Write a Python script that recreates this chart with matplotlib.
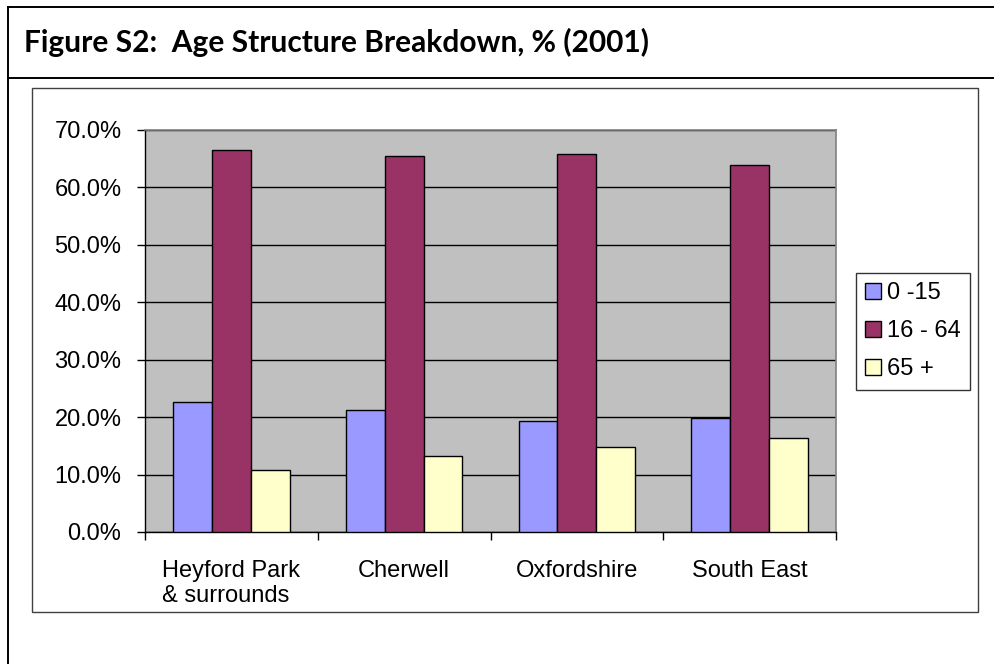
import matplotlib
matplotlib.use("Agg")
import matplotlib.pyplot as plt
from matplotlib.patches import Rectangle
from matplotlib.lines import Line2D
import numpy as np

categories = ["Heyford Park\n& surrounds", "Cherwell", "Oxfordshire", "South East"]
series_names = ["0 -15", "16 - 64", "65 +"]
age_0_15 = [22.6, 21.2, 19.3, 19.8]
age_16_64 = [66.6, 65.5, 65.9, 63.9]
age_65_plus = [10.8, 13.3, 14.8, 16.3]
y_ticks = [0, 10, 20, 30, 40, 50, 60, 70]
title = "Figure S2:  Age Structure Breakdown, % (2001)"

colors = ["#9999FF", "#993366", "#FFFFCC"]

W, H = 994, 664
fig = plt.figure(figsize=(W / 100, H / 100), dpi=100)
fig.patch.set_facecolor("white")

def fx(px):
    return px / W

def fy(py):
    return 1 - py / H

# outer document frame lines
fig.add_artist(Line2D([fx(8), fx(8)], [fy(7), fy(664)], color="black", lw=1.4,
                      transform=fig.transFigure))
fig.add_artist(Line2D([fx(8), 1.0], [fy(7), fy(7)], color="black", lw=1.4,
                      transform=fig.transFigure))
fig.add_artist(Line2D([fx(8), 1.0], [fy(77.5), fy(77.5)], color="black", lw=1.4,
                      transform=fig.transFigure))
fig.text(fx(24), fy(52), title, family="Lato", weight="bold", fontsize=21.5,
         ha="left", va="baseline")

# chart frame
fig.add_artist(Rectangle((fx(32), fy(612)), fx(978) - fx(32), fy(88) - fy(612),
                         transform=fig.transFigure, fill=False,
                         edgecolor="#404040", lw=1.0))

ax = fig.add_axes([fx(145), fy(532), fx(836) - fx(145), fy(130) - fy(532)])
ax.set_facecolor("#C0C0C0")

x = np.arange(len(categories))
bw = 0.225
for i, (vals, name) in enumerate(zip([age_0_15, age_16_64, age_65_plus], series_names)):
    ax.bar(x + (i - 1) * bw, vals, width=bw, color=colors[i], edgecolor="black",
           linewidth=1.0, label=name, zorder=3)

ax.set_xlim(-0.5, len(categories) - 0.5)
ax.set_ylim(0, 70)
ax.set_yticks(y_ticks)
ax.set_yticklabels([f"{v:.1f}%" for v in y_ticks], family="Liberation Sans", fontsize=17)
ax.yaxis.grid(True, color="black", lw=1.0, zorder=1)
ax.set_axisbelow(True)

ax.set_xticks(np.arange(len(categories) + 1) - 0.5)
ax.set_xticklabels([])
ax.set_xticks(x, minor=True)
ax.set_xticklabels(categories, minor=True, family="Liberation Sans", fontsize=17)
for lab in ax.get_xticklabels(minor=True):
    lab.set_multialignment("left")
ax.tick_params(axis="x", which="minor", length=0, pad=20)
ax.tick_params(axis="x", which="major", length=6, width=1, direction="out")
ax.tick_params(axis="y", length=6, width=1, direction="out", pad=11)

for s in ["top", "right"]:
    ax.spines[s].set_color("#808080")
    ax.spines[s].set_linewidth(1.2)
for s in ["left", "bottom"]:
    ax.spines[s].set_color("black")
    ax.spines[s].set_linewidth(1.0)

leg = fig.legend(loc="center left", bbox_to_anchor=(fx(856), fy(331)),
                 prop={"family": "Liberation Sans", "size": 17},
                 frameon=True, fancybox=False, edgecolor="black",
                 handlelength=0.65, handleheight=0.65, handletextpad=0.25,
                 labelspacing=0.68, borderpad=0.4, borderaxespad=0)
leg.get_frame().set_linewidth(1.0)

fig.savefig("out.png", dpi=100)
